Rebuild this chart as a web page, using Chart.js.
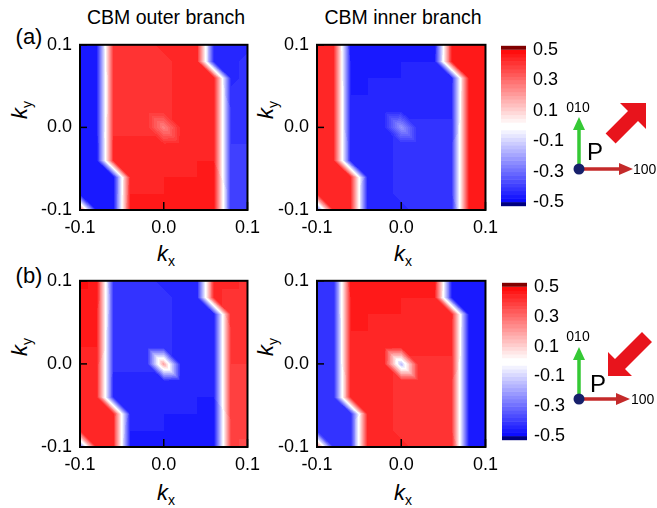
<!DOCTYPE html>
<html>
<head>
<meta charset="utf-8">
<script src="https://cdn.jsdelivr.net/npm/chart.js@4.4.1/dist/chart.umd.min.js"></script>
<style>
  body { margin:0; background:#fff; width:657px; height:508px; overflow:hidden; position:relative;
         font-family:"Liberation Sans", Arial, sans-serif; }
  canvas { position:absolute; }
  .lbl { position:absolute; color:#000; white-space:nowrap; line-height:1; transform:translate(-50%,-50%); }
  .ttl { font-size:19.5px; }
  .tag { font-size:22px; }
  .kx, .ky { font-size:22px; }
  .ky { transform:translate(-50%,-50%) rotate(-90deg); }
  .kx sub, .ky sub { font-size:14px; vertical-align:-5px; font-style:normal; }
  svg { position:absolute; left:0; top:0; }
</style>
</head>
<body>
<div class="lbl ttl" style="left:166px;top:18px">CBM outer branch</div>
<div class="lbl ttl" style="left:403px;top:18px">CBM inner branch</div>
<div class="lbl tag" style="left:29px;top:37px">(a)</div>
<div class="lbl tag" style="left:29px;top:276px">(b)</div>

<div class="lbl ky" style="left:21px;top:110px"><i>k</i><sub>y</sub></div>
<div class="lbl ky" style="left:267px;top:110px"><i>k</i><sub>y</sub></div>
<div class="lbl ky" style="left:21px;top:347px"><i>k</i><sub>y</sub></div>
<div class="lbl ky" style="left:267px;top:347px"><i>k</i><sub>y</sub></div>
<div class="lbl kx" style="left:166px;top:255px"><i>k</i><sub>x</sub></div>
<div class="lbl kx" style="left:403px;top:255px"><i>k</i><sub>x</sub></div>
<div class="lbl kx" style="left:166px;top:494px"><i>k</i><sub>x</sub></div>
<div class="lbl kx" style="left:403px;top:494px"><i>k</i><sub>x</sub></div>

<canvas id="pA1" width="267" height="214" style="left:0;top:26px"></canvas>
<canvas id="pA2" width="268" height="214" style="left:237px;top:26px"></canvas>
<canvas id="pB1" width="267" height="215" style="left:0;top:262px"></canvas>
<canvas id="pB2" width="268" height="215" style="left:237px;top:262px"></canvas>
<canvas id="cbA" width="75" height="188" style="left:501px;top:32px"></canvas>
<canvas id="cbB" width="75" height="185" style="left:502px;top:269px"></canvas>

<svg width="657" height="508" font-family="Liberation Sans, Arial, sans-serif">
  <!-- (a) axes sketch -->
  <line x1="579" y1="169" x2="579" y2="129" stroke="#35c935" stroke-width="3.5"/>
  <polygon points="573,130 585,130 579,117" fill="#35c935"/>
  <line x1="579" y1="169" x2="620" y2="169" stroke="#c42a2a" stroke-width="3.5"/>
  <polygon points="619,163 619,175 633,169" fill="#c42a2a"/>
  <circle cx="579" cy="169" r="5.5" fill="#17206b"/>
  <text x="578" y="112" font-size="14" text-anchor="middle">010</text>
  <text x="633" y="174" font-size="14">100</text>
  <text x="587" y="160" font-size="24">P</text>
  <polygon points="646,103 646,129 638,121 615.6,143.4 605.6,133.4 628,111 620,103" fill="#e8141c"/>
  <!-- (b) axes sketch -->
  <line x1="579" y1="399" x2="579" y2="359" stroke="#35c935" stroke-width="3.5"/>
  <polygon points="573,360 585,360 579,347" fill="#35c935"/>
  <line x1="579" y1="399" x2="617" y2="399" stroke="#c42a2a" stroke-width="3.5"/>
  <polygon points="616,393 616,405 630,399" fill="#c42a2a"/>
  <circle cx="579" cy="399" r="5.5" fill="#17206b"/>
  <text x="578" y="341" font-size="14" text-anchor="middle">010</text>
  <text x="631" y="404" font-size="14">100</text>
  <text x="590" y="392" font-size="24">P</text>
  <polygon points="608,376 608,352 615,359 642,332 652,342 625,369 632,376" fill="#e8141c"/>
</svg>

<script>
// grid of the calculation (kx columns, ky rows from top to bottom)
const kxVals = [-0.1, -0.08, -0.06, -0.04, -0.02, 0, 0.02, 0.04, 0.06, 0.08, 0.1];
const kyVals = [0.1, 0.08, 0.06, 0.04, 0.02, 0, -0.02, -0.04, -0.06, -0.08, -0.1];
const axisTicks = [-0.1, 0, 0.1];
const barTicks = [-0.5, -0.3, -0.1, 0.1, 0.3, 0.5];
const vMin = -0.5, vMax = 0.5, levelStep = 0.025;

// (a) CBM outer branch
const outerA = [
  [-.45,-.45, .42, .42, .42, .43, .43, .44,-.44,-.44,-.43],
  [-.45,-.45, .41, .41, .42, .42, .43, .44,-.44,-.43,-.42],
  [-.45,-.46, .41, .41, .41, .42, .43, .43, .44,-.43,-.42],
  [-.46,-.46, .41, .41, .41, .42, .43, .43, .44,-.42,-.41],
  [-.46,-.46, .41, .41, .42, .42, .43, .44, .44,-.41,-.41],
  [-.46,-.46, .42, .42, .42, .26, .43, .44, .45,-.41,-.40],
  [-.46,-.47, .43, .43, .43, .43, .44, .44, .45,-.40,-.40],
  [-.47,-.47, .43, .43, .44, .44, .44, .45, .45,-.40,-.39],
  [-.47,-.47,-.47, .44, .44, .45, .45, .45, .46,-.40,-.39],
  [-.47,-.47,-.47, .45, .45, .45, .46, .46, .46,-.39,-.38],
  [ .35,-.47,-.47, .46, .46, .46, .46, .47, .47,-.39,-.38]
];
// (a) CBM inner branch
const innerA = [
  [ .43, .43,-.47,-.47,-.46,-.46,-.46,-.46, .45, .45, .45],
  [ .43, .43,-.46,-.46,-.46,-.45,-.45,-.45, .45, .45, .45],
  [ .43, .43,-.46,-.45,-.45,-.45,-.44,-.44,-.44, .45, .45],
  [ .43, .43,-.45,-.45,-.44,-.44,-.44,-.43,-.43, .45, .45],
  [ .43, .43,-.45,-.44,-.44,-.43,-.43,-.43,-.43, .45, .45],
  [ .43, .43,-.45,-.44,-.43,-.22,-.42,-.42,-.42, .45, .45],
  [ .43, .43,-.44,-.44,-.43,-.42,-.42,-.41,-.41, .45, .45],
  [ .43, .43,-.44,-.43,-.43,-.42,-.41,-.41,-.41, .45, .45],
  [ .43, .43, .43,-.43,-.43,-.42,-.41,-.41,-.41, .45, .45],
  [ .43, .43, .43,-.44,-.43,-.42,-.42,-.41,-.41, .45, .45],
  [-.33, .43, .43,-.44,-.43,-.43,-.42,-.42,-.42, .45, .45]
];
// (b) CBM outer branch
const outerB = [
  [ .48, .47,-.42,-.42,-.42,-.43,-.43,-.44, .43, .43, .42],
  [ .47, .47,-.41,-.41,-.42,-.42,-.43,-.44, .43, .42, .42],
  [ .46, .46,-.41,-.41,-.41,-.42,-.43,-.43,-.44, .42, .41],
  [ .46, .45,-.41,-.41,-.41,-.42,-.43,-.43,-.44, .41, .41],
  [ .45, .45,-.41,-.41,-.42,-.42,-.43,-.44,-.44, .41, .40],
  [ .45, .44,-.42,-.42,-.42, .20,-.43,-.44,-.45, .40, .40],
  [ .44, .44,-.43,-.43,-.43,-.43,-.44,-.44,-.45, .40, .39],
  [ .44, .44,-.43,-.43,-.44,-.44,-.44,-.45,-.45, .39, .39],
  [ .44, .43, .43,-.44,-.44,-.45,-.45,-.45,-.46, .39, .38],
  [ .43, .43, .43,-.45,-.45,-.45,-.46,-.46,-.46, .38, .38],
  [-.33, .43, .43,-.46,-.46,-.46,-.46,-.47,-.47, .38, .37]
];
// (b) CBM inner branch
const innerB = [
  [-.42,-.42, .47, .47, .46, .46, .46, .46,-.45,-.45,-.45],
  [-.42,-.42, .46, .46, .46, .45, .45, .45,-.45,-.45,-.45],
  [-.42,-.42, .46, .45, .45, .45, .44, .44, .44,-.45,-.45],
  [-.42,-.42, .45, .45, .44, .44, .44, .43, .43,-.45,-.45],
  [-.42,-.42, .45, .44, .44, .43, .43, .43, .43,-.45,-.45],
  [-.42,-.42, .45, .44, .43,-.15, .42, .42, .42,-.45,-.45],
  [-.42,-.42, .44, .44, .43, .42, .42, .41, .41,-.45,-.45],
  [-.42,-.42, .44, .43, .43, .42, .41, .41, .41,-.45,-.45],
  [-.42,-.42,-.42, .43, .43, .42, .41, .41, .41,-.45,-.45],
  [-.42,-.42,-.42, .44, .43, .42, .42, .41, .41,-.45,-.45],
  [ .33,-.42,-.42, .44, .43, .43, .42, .42, .42,-.45,-.45]
];

const FONT = { family: "'Liberation Sans', Arial, sans-serif", size: 18 };

/* colour scale: white -> red / white -> blue, in discrete levels */
function colorOf(v) {
  if (v > vMax) return [128, 0, 0];
  if (v < vMin) return [0, 0, 128];
  const q = Math.trunc(v / levelStep) * levelStep;
  const w = Math.round(255 * (1 - Math.abs(q) / vMax));
  return v >= 0 ? [255, w, w] : [w, w, 255];
}

function fmt(v) { return (Math.abs(v) < 1e-9 ? 0 : v).toFixed(1); }

/* linear interpolation on triangles (diagonal from top-left to bottom-right) */
function sample(grid, kx, ky) {
  const n = kxVals.length - 1, m = kyVals.length - 1;
  let u = (kx - kxVals[0]) / (kxVals[1] - kxVals[0]);
  let v = (kyVals[0] - ky) / (kyVals[0] - kyVals[1]);
  u = Math.min(Math.max(u, 0), n - 1e-9);
  v = Math.min(Math.max(v, 0), m - 1e-9);
  const i = Math.floor(u), j = Math.floor(v), fu = u - i, fv = v - j;
  const tl = grid[j][i], tr = grid[j][i + 1], bl = grid[j + 1][i], br = grid[j + 1][i + 1];
  if (fu >= fv) return tl + fu * (tr - tl) + fv * (br - tr);
  return tl + fv * (bl - tl) + fu * (br - bl);
}

const heatmap = {
  id: 'heatmap',
  beforeDatasetsDraw(chart, args, opts) {
    const { ctx, chartArea: a, scales: { x, y } } = chart;
    const w = Math.round(a.right - a.left), h = Math.round(a.bottom - a.top);
    const img = ctx.createImageData(w, h);
    for (let py = 0; py < h; py++) {
      const ky = y.getValueForPixel(a.top + py + 0.5);
      for (let px = 0; px < w; px++) {
        const kx = x.getValueForPixel(a.left + px + 0.5);
        const c = colorOf(sample(opts.grid, kx, ky));
        const k = (py * w + px) * 4;
        img.data[k] = c[0]; img.data[k + 1] = c[1]; img.data[k + 2] = c[2]; img.data[k + 3] = 255;
      }
    }
    ctx.putImageData(img, Math.round(a.left), Math.round(a.top));
  },
  afterDraw(chart) {
    const { ctx, chartArea: a, scales: { x, y } } = chart;
    ctx.save();
    ctx.strokeStyle = '#000';
    ctx.lineWidth = 1.5;
    axisTicks.forEach(t => {
      const px = x.getPixelForValue(t), py = y.getPixelForValue(t);
      ctx.beginPath(); ctx.moveTo(px, a.bottom); ctx.lineTo(px, a.bottom - 8); ctx.stroke();
      ctx.beginPath(); ctx.moveTo(a.left, py); ctx.lineTo(a.left + 7, py); ctx.stroke();
    });
    ctx.lineWidth = 2;
    ctx.strokeRect(a.left, a.top, a.right - a.left, a.bottom - a.top);
    ctx.restore();
  }
};

const colorbar = {
  id: 'colorbar',
  beforeDatasetsDraw(chart) {
    const { ctx, chartArea: a, scales: { y } } = chart;
    const n = Math.round((vMax - vMin) / levelStep);
    for (let k = 0; k < n; k++) {
      const lo = vMin + k * levelStep, hi = lo + levelStep;
      const c = colorOf((lo + hi) / 2);
      ctx.fillStyle = `rgb(${c[0]},${c[1]},${c[2]})`;
      const y1 = y.getPixelForValue(hi), y2 = y.getPixelForValue(lo);
      ctx.fillRect(a.left, y1, a.right - a.left, y2 - y1 + 0.5);
    }
    ctx.fillStyle = 'rgb(128,0,0)';
    ctx.fillRect(a.left, a.top - 4, a.right - a.left, 4);
    ctx.fillStyle = 'rgb(0,0,128)';
    ctx.fillRect(a.left, a.bottom, a.right - a.left, 4);
  }
};

function panel(id, grid) {
  return new Chart(document.getElementById(id), {
    type: 'scatter',
    data: { datasets: [{ data: [], pointRadius: 0 }] },
    options: {
      responsive: false, animation: false, events: [],
      layout: { padding: { top: 12, right: 15, bottom: 0, left: 0 } },
      plugins: { legend: { display: false }, tooltip: { enabled: false }, heatmap: { grid } },
      scales: {
        x: {
          type: 'linear', min: -0.1, max: 0.1,
          afterBuildTicks: s => { s.ticks = axisTicks.map(v => ({ value: v })); },
          afterFit: s => { s.height = 30; },
          grid: { display: false, drawTicks: false }, border: { display: false },
          ticks: { font: FONT, color: '#000', padding: 7, maxRotation: 0, callback: fmt }
        },
        y: {
          type: 'linear', min: -0.1, max: 0.1,
          afterBuildTicks: s => { s.ticks = axisTicks.map(v => ({ value: v })); },
          afterFit: s => { s.width = 80; },
          grid: { display: false, drawTicks: false }, border: { display: false },
          ticks: { font: FONT, color: '#000', padding: 8, callback: fmt }
        }
      }
    },
    plugins: [heatmap]
  });
}

function bar(id) {
  return new Chart(document.getElementById(id), {
    type: 'scatter',
    data: { datasets: [{ data: [], pointRadius: 0 }] },
    options: {
      responsive: false, animation: false, events: [],
      layout: { padding: { top: 12, right: 0, bottom: 12, left: 0 } },
      plugins: { legend: { display: false }, tooltip: { enabled: false } },
      scales: {
        x: { display: false, min: 0, max: 1 },
        y: {
          type: 'linear', position: 'right', min: vMin, max: vMax,
          afterBuildTicks: s => { s.ticks = barTicks.map(v => ({ value: v })); },
          afterFit: s => { s.width = 50; },
          grid: { display: false, drawTicks: false }, border: { display: false },
          ticks: { font: FONT, color: '#000', padding: 7, callback: fmt }
        }
      }
    },
    plugins: [colorbar]
  });
}

panel('pA1', outerA);
panel('pA2', innerA);
panel('pB1', outerB);
panel('pB2', innerB);
bar('cbA');
bar('cbB');
</script>
</body>
</html>
